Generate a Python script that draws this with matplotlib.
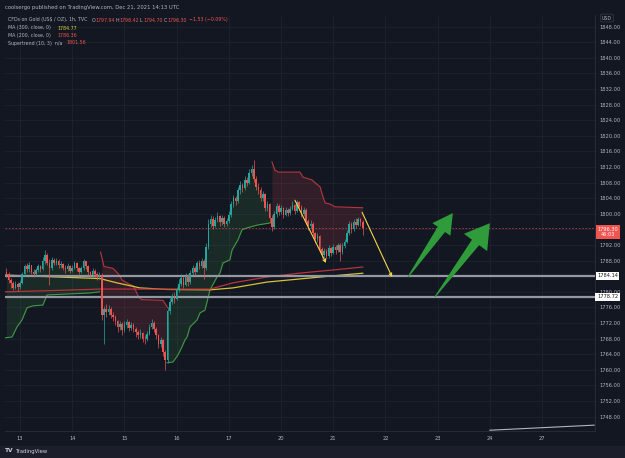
import numpy as np
import matplotlib
matplotlib.use("Agg")
import matplotlib.pyplot as plt
from matplotlib.patches import Polygon

# ---- data (hourly bars, bar 0 = first bar of Dec 13) ----
first_bar = -6
first_open = 1785.0
closes = [
    1784.5, 1783.0, 1782.2, 1781.0, 1782.0, 1781.2,
    1782.3, 1784.5, 1786.5, 1785.8, 1786.8, 1785.2, 1784.6, 1785.5, 1786.6, 1785.9,
    1788.0, 1789.5, 1787.5, 1786.0, 1788.2, 1787.5, 1788.0, 1786.8, 1787.2, 1786.2,
    1785.8, 1786.5, 1785.4, 1786.2, 1787.3, 1786.0, 1785.2, 1786.0, 1787.8, 1786.5,
    1785.0, 1784.2, 1785.3, 1784.6, 1783.8, 1784.2, 1774.0, 1775.5, 1774.8, 1775.6,
    1774.0, 1773.5, 1772.5, 1771.0, 1771.8, 1770.2, 1771.5, 1772.2, 1770.8, 1771.6,
    1770.4, 1769.6, 1768.8, 1769.5, 1768.0, 1767.8, 1769.2, 1771.0, 1772.0, 1770.5,
    1768.8, 1766.5, 1767.6, 1764.5, 1762.5, 1775.0, 1777.5, 1779.0, 1778.2, 1780.5,
    1782.0, 1783.5, 1781.8, 1784.0, 1782.5, 1784.8, 1786.0, 1785.2, 1787.3, 1786.6,
    1787.8, 1786.0, 1791.5, 1797.5, 1798.8, 1797.0, 1798.5, 1799.5, 1797.8, 1799.0,
    1797.5, 1798.2, 1799.8, 1802.5, 1804.0, 1803.2, 1806.0, 1807.5, 1806.5, 1808.8,
    1808.0, 1810.5, 1811.5, 1809.0, 1807.0, 1806.2, 1804.0, 1805.0, 1801.5, 1802.5,
    1799.0, 1796.5, 1800.0, 1802.0, 1800.5, 1801.5, 1799.8, 1801.0, 1800.2, 1801.2,
    1802.2, 1800.8, 1803.0, 1801.8, 1800.0, 1801.0, 1798.2, 1796.8, 1797.5, 1795.0,
    1793.5, 1794.2, 1791.0, 1789.5, 1790.5, 1789.2, 1791.2, 1790.0, 1791.5, 1790.6,
    1792.0, 1790.2, 1791.8, 1792.8, 1795.0, 1797.3, 1796.0, 1798.0, 1797.2, 1798.6,
    1797.94, 1796.30,
]
highs = [
    1786.0, 1785.0, 1783.6, 1782.8, 1782.9, 1782.5,
    1783.0, 1785.2, 1787.2, 1787.5, 1787.6, 1787.0, 1785.8, 1786.0, 1787.2, 1787.0,
    1789.0, 1790.8, 1790.0, 1788.5, 1789.0, 1788.8, 1788.6, 1788.3, 1787.8, 1787.5,
    1786.8, 1787.4, 1786.8, 1786.9, 1788.0, 1787.6, 1786.3, 1786.7, 1788.4, 1788.0,
    1786.8, 1785.4, 1786.0, 1785.8, 1785.0, 1785.0, 1784.8, 1776.4, 1776.8, 1776.5,
    1776.0, 1774.8, 1774.0, 1772.8, 1772.6, 1772.2, 1772.4, 1773.0, 1772.6, 1772.2,
    1771.9, 1771.0, 1770.2, 1770.4, 1769.8, 1768.9, 1770.0, 1771.8, 1773.0, 1772.4,
    1771.0, 1769.2, 1768.4, 1768.0, 1765.2, 1776.0, 1778.4, 1779.8, 1780.0, 1781.2,
    1783.2, 1784.6, 1784.0, 1784.8, 1784.5, 1785.5, 1786.8, 1786.6, 1788.0, 1788.2,
    1788.6, 1788.4, 1792.4, 1798.6, 1799.8, 1799.4, 1799.3, 1800.4, 1799.8, 1799.6,
    1799.4, 1799.0, 1800.6, 1803.4, 1804.9, 1804.6, 1806.8, 1808.4, 1808.0, 1809.6,
    1809.4, 1811.4, 1812.4, 1813.8, 1809.6, 1807.8, 1806.8, 1805.8, 1805.4, 1803.4,
    1802.8, 1799.6, 1800.8, 1802.8, 1802.4, 1802.2, 1801.8, 1801.7, 1801.5, 1802.0,
    1803.2, 1802.6, 1803.6, 1803.4, 1802.2, 1801.8, 1801.4, 1798.6, 1798.3, 1797.8,
    1795.4, 1795.0, 1794.6, 1791.6, 1791.3, 1791.0, 1792.0, 1791.6, 1792.2, 1792.0,
    1792.6, 1792.4, 1792.5, 1793.6, 1795.8, 1798.2, 1797.8, 1798.6, 1799.0, 1799.2,
    1799.0, 1798.42,
]
lows = [
    1783.8, 1782.2, 1781.0, 1780.4, 1780.6, 1780.2,
    1780.8, 1782.0, 1784.0, 1785.0, 1785.2, 1784.5, 1783.8, 1784.0, 1785.0, 1785.2,
    1785.5, 1787.2, 1786.8, 1781.7, 1785.5, 1786.8, 1786.9, 1786.0, 1786.2, 1785.5,
    1784.9, 1785.3, 1784.7, 1785.0, 1785.8, 1785.4, 1784.6, 1784.9, 1785.6, 1785.8,
    1784.3, 1783.5, 1783.9, 1783.8, 1783.0, 1783.2, 1772.8, 1766.5, 1773.6, 1774.0,
    1773.2, 1772.4, 1771.6, 1769.8, 1770.2, 1769.0, 1769.8, 1770.8, 1770.0, 1770.1,
    1769.6, 1768.5, 1767.8, 1768.2, 1767.2, 1766.6, 1767.4, 1768.8, 1770.5, 1769.8,
    1768.0, 1765.7, 1765.8, 1763.6, 1760.0, 1761.8, 1774.2, 1776.8, 1777.2, 1777.8,
    1780.0, 1781.4, 1781.0, 1781.4, 1781.6, 1782.0, 1784.2, 1784.4, 1785.0, 1785.8,
    1786.0, 1783.2, 1785.6, 1791.0, 1796.6, 1796.2, 1796.5, 1797.8, 1796.9, 1797.2,
    1796.6, 1796.8, 1797.6, 1799.2, 1801.8, 1802.2, 1802.8, 1805.2, 1805.6, 1806.0,
    1807.1, 1807.6, 1809.6, 1808.2, 1806.1, 1805.0, 1803.2, 1803.4, 1800.6, 1800.8,
    1798.0, 1795.6, 1796.0, 1799.2, 1799.8, 1800.0, 1799.0, 1799.4, 1799.4, 1799.8,
    1800.9, 1800.0, 1800.5, 1801.0, 1799.2, 1799.4, 1797.4, 1795.8, 1796.0, 1794.2,
    1792.6, 1792.9, 1790.2, 1788.6, 1788.6, 1788.5, 1788.8, 1789.2, 1789.6, 1789.8,
    1790.2, 1787.8, 1789.8, 1791.2, 1792.4, 1794.6, 1795.2, 1795.6, 1796.4, 1796.8,
    1797.0, 1794.70,
]

day_ticks = [0, 23, 46, 69, 92, 115, 138, 161, 184, 207, 230]
day_labels = ["13", "14", "15", "16", "17", "20", "21", "22", "23", "24", "27"]
price_ticks = [1748, 1752, 1756, 1760, 1764, 1768, 1772, 1776, 1780, 1788, 1792,
               1800, 1804, 1808, 1812, 1816, 1820, 1824, 1828, 1832, 1836, 1840, 1844, 1848]

# moving averages (bar, price)
ma300_x = [-6.6, 35.2, 42.7, 52.9, 64.8, 83.7, 93.8, 108.8, 123.3, 137.9, 151.0]
ma300_y = [1784.3, 1783.4, 1782.3, 1781.0, 1780.6, 1780.5, 1781.0, 1782.5, 1783.3, 1784.1, 1784.77]
ma200_x = [-6.6, 13.2, 35.2, 83.7, 93.8, 108.8, 123.3, 137.9, 151.0]
ma200_y = [1780.0, 1780.3, 1780.7, 1780.7, 1782.3, 1783.8, 1784.8, 1785.6, 1786.36]

# supertrend segments (bar, price)
st_up1_x = [-6.6, -3.5, -1.3, 0.9, 3.1, 5.7, 10.1, 11.9, 30.8, 35.0]
st_up1_y = [1768.2, 1768.4, 1771.0, 1772.8, 1775.9, 1776.4, 1776.6, 1779.2, 1779.7, 1780.0]
st_dn1_x = [35.5, 37, 41, 43.5, 45, 48, 50, 52, 53.5, 63, 65]
st_dn1_y = [1790.2, 1786.5, 1786.0, 1784.5, 1783.0, 1782.0, 1781.5, 1779.0, 1778.0, 1777.8, 1776.0]
st_up2_x = [64.8, 67.4, 69.6, 71.4, 72.7, 73.6, 74.9, 78.0, 79.3, 81.5, 83.7, 86.8,
            88.1, 89.4, 92.5, 93.4, 96.0, 97.8, 100.0, 104.4, 110.5]
st_up2_y = [1761.8, 1762.0, 1763.8, 1765.9, 1767.7, 1768.4, 1771.0, 1772.8, 1774.6, 1775.3, 1780.5, 1783.8,
            1784.8, 1787.4, 1788.2, 1790.7, 1793.3, 1795.9, 1796.4, 1797.1, 1797.7]
st_dn2_x = [111.0, 112.3, 113.7, 123.3, 124.7, 128.6, 132.2, 133.5, 134.4, 136.6, 138.8, 151.0]
st_dn2_y = [1813.3, 1811.2, 1810.7, 1810.7, 1809.4, 1808.7, 1806.9, 1804.3, 1802.8, 1802.5, 1801.8, 1801.56]

levels = [1784.14, 1778.72]
last_price = 1796.30

# drawings (bar, price)
yellow_arrows = [((121.1, 1803.5), (134.8, 1787.4)), ((150.7, 1800.4), (163.9, 1783.8))]
green_arrows = [((170.9, 1783.8), (190.7, 1800.2)), ((182.8, 1778.7), (207.0, 1797.6))]
green_heads = [(20, 22), (24, 29)]  # head length, head width (px)
trend_line = ((207.0, 1744.5), (252.9, 1745.8))

# ---- style ----
BG = "#131722"
GRID = "#1e2230"
TXT = "#b2b5be"
UP = "#26a69a"
DN = "#ef5350"

W, H = 625, 458
fig = plt.figure(figsize=(W / 100, H / 100), dpi=100, facecolor=BG)


def px_rect(x0, y0, x1, y1):
    return [x0 / W, 1 - y1 / H, (x1 - x0) / W, (y1 - y0) / H]


ax = fig.add_axes(px_rect(5, 15, 595, 431))
ax.set_facecolor(BG)
ax.set_xlim(-6.6, 253.3)
ax.set_ylim(1744.3, 1851.0)

x = np.arange(first_bar, first_bar + len(closes))
c = np.array(closes)
o = np.concatenate([[first_open], c[:-1]])
h = np.array(highs)
l = np.array(lows)
col = np.where(c >= o, UP, DN)

# supertrend fills and lines
mid = (o + c) / 2
for sx, sy, color, lc in [(st_up1_x, st_up1_y, "#4caf50", "#3f9a45"),
                          (st_dn1_x, st_dn1_y, "#ff5252", "#b7363d"),
                          (st_up2_x, st_up2_y, "#4caf50", "#3f9a45"),
                          (st_dn2_x, st_dn2_y, "#ff5252", "#b7363d")]:
    sel = (x >= sx[0]) & (x <= sx[-1])
    xs = x[sel]
    ax.fill_between(xs, np.interp(xs, sx, sy), mid[sel], color=color, alpha=0.13, lw=0, zorder=1)
    ax.plot(sx, sy, color=lc, lw=0.8, zorder=2)

# moving averages
ax.plot(ma300_x, ma300_y, color="#d6c23a", lw=0.9, zorder=2)
ax.plot(ma200_x, ma200_y, color="#b8333d", lw=0.9, zorder=2)

# horizontal levels
for lv in levels:
    ax.axhline(lv, color="#9598a1", lw=1.6, zorder=3)
ax.axhline(last_price, color=DN, lw=0.6, ls=(0, (2, 2)), alpha=0.7, zorder=2)

# candles
ax.vlines(x, l, h, colors=col, lw=0.5, zorder=4)
ax.bar(x, np.where(np.abs(c - o) < 0.15, 0.15, c - o), bottom=o, width=0.7, color=col, lw=0, zorder=5)

# drawings
for (t, p) in yellow_arrows:
    ax.annotate("", xy=p, xytext=t,
                arrowprops=dict(arrowstyle="->", color="#f2d64b", lw=0.8,
                                mutation_scale=5, shrinkA=0, shrinkB=0), zorder=6)
for ((t, p), (hl, hw)) in zip(green_arrows, green_heads):
    p0 = ax.transData.transform(t)
    p1 = ax.transData.transform(p)
    u = (p1 - p0) / np.hypot(*(p1 - p0))
    n = np.array([-u[1], u[0]])
    b = p1 - u * hl
    verts = [p0 + n * 0.5, b + n * 4.5, b + n * hw / 2, p1,
             b - n * hw / 2, b - n * 4.5, p0 - n * 0.5]
    verts = ax.transData.inverted().transform(verts)
    ax.add_patch(Polygon(verts, closed=True, color="#2f9b3a", lw=0, zorder=6))
ax.plot([trend_line[0][0], trend_line[1][0]], [trend_line[0][1], trend_line[1][1]],
        color="#b2b5be", lw=0.8, zorder=6, clip_on=False)

# axes, grid, ticks
ax.set_xticks(day_ticks)
ax.set_xticklabels(day_labels)
ax.set_yticks(price_ticks)
ax.set_yticklabels(["{:.2f}".format(v) for v in price_ticks])
ax.yaxis.tick_right()
ax.tick_params(axis="both", length=0, labelsize=3.7, labelcolor=TXT)
ax.tick_params(axis="x", pad=3.5)
ax.tick_params(axis="y", pad=3)
ax.grid(color=GRID, lw=0.6)
for gy in [1784, 1796]:
    ax.axhline(gy, color=GRID, lw=0.6, zorder=0)
ax.set_axisbelow(True)
for s in ["left", "top"]:
    ax.spines[s].set_visible(False)
for s in ["right", "bottom"]:
    ax.spines[s].set_color("#2a2e39")
    ax.spines[s].set_linewidth(0.6)

# price tags
fig.text(608 / W, 1 - 232 / H, "1796.30\n46:03", ha="center", va="center", fontsize=3.6,
         color="white", linespacing=1.1,
         bbox=dict(boxstyle="square,pad=0.35", fc="#f05350", ec="none"))
for lv in levels:
    yp = 275.7 - (lv - 1784.14) * 3.9
    fig.text(607.5 / W, 1 - yp / H, "{:.2f}".format(lv), ha="center", va="center",
             fontsize=3.7, color="#131722",
             bbox=dict(boxstyle="square,pad=0.3", fc="white", ec="none"))
fig.text(607 / W, 1 - 18 / H, "USD", ha="center", va="center", fontsize=3.4, color=TXT,
         bbox=dict(boxstyle="round,pad=0.3", fc=BG, ec="#434651", lw=0.4))

# header and legend
FS = 3.4
fig.text(5 / W, 1 - 7 / H, "coolsergo published on TradingView.com, Dec 21, 2021 14:13 UTC",
         fontsize=3.8, color=TXT, va="center")
row = 1 - 20 / H
fig.text(8 / W, row, "CFDs on Gold (US$ / OZ), 1h, TVC", fontsize=FS, color=TXT, va="center")
for xp, lab, val in [(92, "O", "1797.94"), (116, "H", "1798.42"), (140, "L", "1794.70"), (164, "C", "1796.30")]:
    fig.text(xp / W, row, lab, fontsize=FS, color=TXT, va="center")
    fig.text((xp + 3.3) / W, row, val, fontsize=FS, color=DN, va="center")
fig.text(189 / W, row, "\u22121.53 (\u22120.09%)", fontsize=FS, color=DN, va="center")
fig.text(8 / W, 1 - 28 / H, "MA (300, close, 0)", fontsize=FS, color=TXT, va="center")
fig.text(57 / W, 1 - 28 / H, "1784.77", fontsize=FS, color="#e3cf3c", va="center")
fig.text(8 / W, 1 - 35.5 / H, "MA (200, close, 0)", fontsize=FS, color=TXT, va="center")
fig.text(57 / W, 1 - 35.5 / H, "1786.36", fontsize=FS, color=DN, va="center")
fig.text(8 / W, 1 - 43 / H, "Supertrend (10, 3)  n/a", fontsize=FS, color=TXT, va="center")
fig.text(66 / W, 1 - 43 / H, "1801.56", fontsize=FS, color=DN, va="center")

# footer
fig.patches.append(plt.Rectangle((0, 0), 1, 12 / H, transform=fig.transFigure,
                                 fc="#1c1f2b", ec="none", zorder=0))
fig.text(5 / W, 1 - 451 / H, "TV", fontsize=4.2, color="#d1d4dc", va="center", weight="bold")
fig.text(16 / W, 1 - 451 / H, "TradingView", fontsize=3.8, color="#d1d4dc", va="center")

fig.savefig("out.png", dpi=100, facecolor=BG)
